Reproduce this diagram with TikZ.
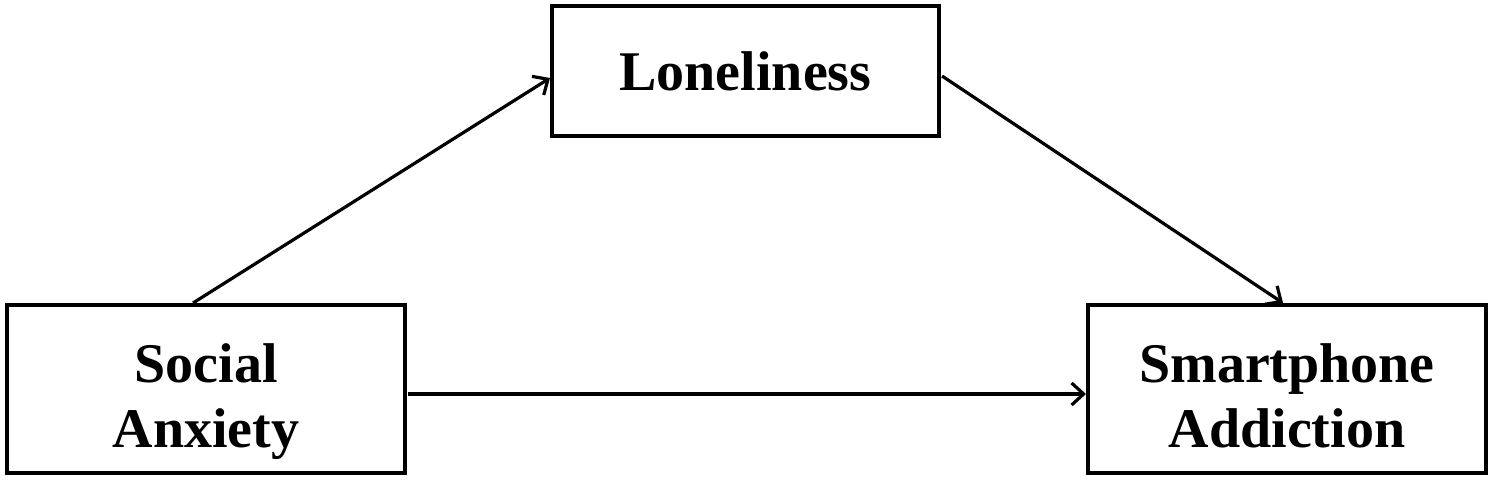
\documentclass[tikz,border=0pt]{standalone}
\usepackage{fontspec}
\setmainfont{Liberation Serif}
\usetikzlibrary{arrows.meta}
\newcommand{\twolines}[2]{\raisebox{-13pt}[\height][\depth]{\begin{tabular}{@{}c@{}}#1\\#2\end{tabular}}}
\begin{document}
\begin{tikzpicture}[x=1pt,y=-1pt,
  box/.style={draw,line width=4pt,rectangle,inner sep=0pt,align=center,
    font=\fontsize{56}{65}\selectfont\bfseries},
  conn/.style={line width=3.2pt,-{Straight Barb[length=12pt,width=22pt,line width=3.2pt]}}]
\useasboundingbox (0,0) rectangle (1492,481);
\node[box,minimum width=398pt,minimum height=168pt] (sa) at (206,389) {\twolines{Social}{Anxiety}};
\node[box,minimum width=387pt,minimum height=130pt] (lo) at (745.5,71) {Loneliness};
\node[box,minimum width=398pt,minimum height=168pt] (sm) at (1287,389) {\twolines{Smartphone}{Addiction}};
\coordinate (a1) at (193,303);
\coordinate (a2) at (550,78);
\coordinate (b1) at (942,76);
\coordinate (b2) at (1283,303);
\coordinate (c1) at (408,394);
\coordinate (c2) at (1086,394);
\draw[conn] (a1) -- (a2);
\draw[conn] (b1) -- (b2);
\draw[conn] (c1) -- (c2);
\end{tikzpicture}
\end{document}
